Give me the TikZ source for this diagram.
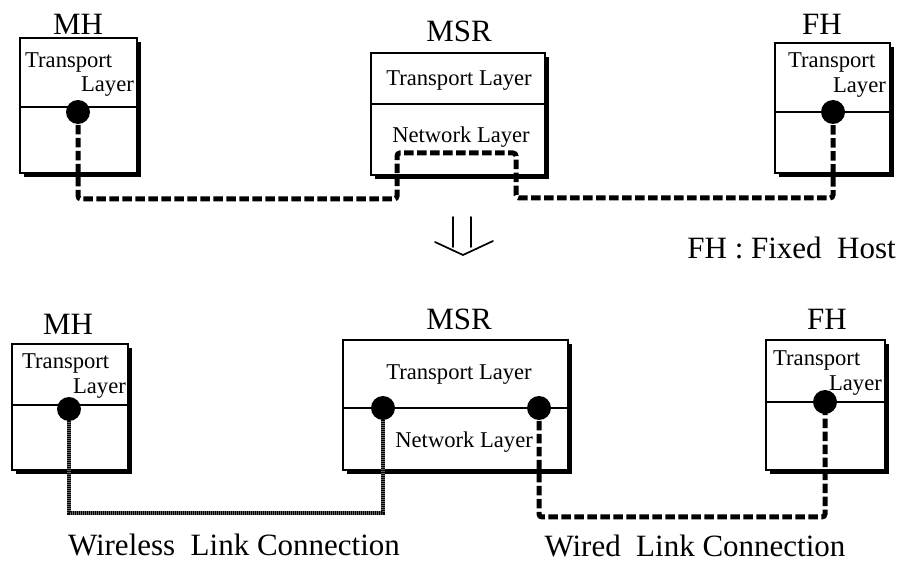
\documentclass[tikz,border=0pt]{standalone}
\usepackage{fontspec}
\setmainfont{Liberation Serif}
\usetikzlibrary{shadows}
\begin{document}
\begin{tikzpicture}[x=1pt,y=-1pt,
  hostbox/.style={draw=black,line width=1.6pt,fill=white,rectangle,inner sep=0pt,
    general shadow={fill=black,shadow xshift=4pt,shadow yshift=-4.5pt}},
  dot/.style={circle,fill=black,inner sep=0pt,minimum size=24pt},
  title/.style={inner sep=0pt,anchor=base,font=\fontsize{31}{31}\selectfont},
  layer/.style={inner sep=0pt,font=\fontsize{22.6}{22.6}\selectfont},
  caption/.style={inner sep=0pt,anchor=base,font=\fontsize{31}{31}\selectfont},
  divider/.style={line width=1.5pt},
  wired/.style={line width=5pt,dash pattern=on 9.5pt off 3.5pt,rounded corners=3pt},
  wireless/.style={line width=4.5pt,draw=black,dash pattern=on 1.3pt off 0.7pt,
    preaction={draw=black!60,line width=4.5pt}},
  bigarrow/.style={line width=1.7pt,line cap=round,line join=round}]
\useasboundingbox (0,0) rectangle (898,561);

% ---------- upper half: transport connection through the MSR network layer
\node[hostbox,minimum width=117pt,minimum height=135pt] (mhA) at (78.5,105.5) {};
\node[hostbox,minimum width=174pt,minimum height=122pt] (msrA) at (458,114) {};
\node[hostbox,minimum width=115pt,minimum height=130pt] (fhA) at (832.5,108) {};

\draw[divider] (mhA.west |- 0,107) -- (mhA.east |- 0,107);
\draw[divider] (msrA.west |- 0,104) -- (msrA.east |- 0,104);
\draw[divider] (fhA.west |- 0,112) -- (fhA.east |- 0,112);

\node[title] (mhAt) at (78,35) {MH};
\node[title] (msrAt) at (459,42) {MSR};
\node[title] (fhAt) at (822,35) {FH};

\node[layer,anchor=base west] (mhAtr) at (25,68) {Transport};
\node[layer,anchor=base east] (mhAly) at (134,92) {Layer};
\node[layer,anchor=base] (msrAtr) at (459,86) {Transport Layer};
\node[layer,anchor=base] (msrAnw) at (461,143) {Network Layer};
\node[layer,anchor=base west] (fhAtr) at (788,68) {Transport};
\node[layer,anchor=base east] (fhAly) at (886,93) {Layer};

\coordinate (pA1) at (78,112);
\coordinate (pA2) at (833,112);
\draw[wired] (pA1) -- (78,199) -- (397,199) -- (397,153) -- (516,153)
  -- (516,198) -- (833,198) -- (pA2);
\node[dot] (dA1) at (pA1) {};
\node[dot] (dA2) at (pA2) {};

% ---------- transition arrow and legend
\draw[bigarrow] (453,217) -- (453,247);
\draw[bigarrow] (471,217) -- (471,247);
\draw[bigarrow] (435,242) -- (463,255) -- (493,241);
\node[caption,anchor=base east] (legend) at (896,259) {FH : Fixed\ \ Host};

% ---------- lower half: split connection at the MSR
\node[hostbox,minimum width=116pt,minimum height=126pt] (mhB) at (70,407) {};
\node[hostbox,minimum width=225pt,minimum height=130pt] (msrB) at (455.5,405) {};
\node[hostbox,minimum width=119pt,minimum height=130pt] (fhB) at (825.5,405) {};

\draw[divider] (mhB.west |- 0,405) -- (mhB.east |- 0,405);
\draw[divider] (msrB.west |- 0,408) -- (msrB.east |- 0,408);
\draw[divider] (fhB.west |- 0,402) -- (fhB.east |- 0,402);

\node[title] (mhBt) at (68,335) {MH};
\node[title] (msrBt) at (459,330) {MSR};
\node[title] (fhBt) at (827,330) {FH};

\node[layer,anchor=base west] (mhBtr) at (22,369) {Transport};
\node[layer,anchor=base east] (mhBly) at (126,394) {Layer};
\node[layer,anchor=base] (msrBtr) at (459,380) {Transport Layer};
\node[layer,anchor=base east] (msrBnw) at (533,448) {Network Layer};
\node[layer,anchor=base west] (fhBtr) at (773,366) {Transport};
\node[layer,anchor=base east] (fhBly) at (882,391) {Layer};

\coordinate (pB1) at (69,409);
\coordinate (pB2) at (383,408);
\coordinate (pB3) at (539,408);
\coordinate (pB4) at (825,402);
\draw[wireless] (pB1) -- (69,513) -- (383,513) -- (pB2);
\draw[wired] (pB3) -- (539,517) -- (825,517) -- (pB4);
\node[dot] (dB1) at (pB1) {};
\node[dot] (dB2) at (pB2) {};
\node[dot] (dB3) at (pB3) {};
\node[dot] (dB4) at (pB4) {};

\node[caption] (wlcap) at (234,555) {Wireless\ \ Link Connection};
\node[caption] (wdcap) at (695,556) {Wired\ \ Link Connection};
\end{tikzpicture}
\end{document}
